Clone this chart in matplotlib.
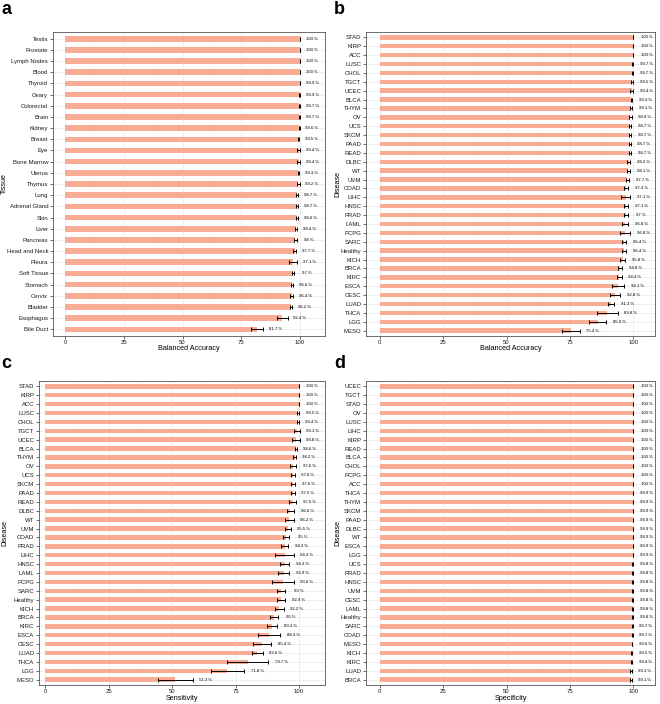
import matplotlib
matplotlib.use("Agg")
import matplotlib.pyplot as plt
from matplotlib.ticker import MultipleLocator

plt.rcParams['font.family'] = ['Liberation Sans', 'DejaVu Sans']

# ---------------- data ----------------
tissues = ["Testis", "Prostate", "Lymph Nodes", "Blood", "Thyroid", "Ovary", "Colorectal",
           "Brain", "Kidney", "Breast", "Eye", "Bone Marrow", "Uterus", "Thymus", "Lung",
           "Adrenal Gland", "Skin", "Liver", "Pancreas", "Head and Neck", "Pleura",
           "Soft Tissue", "Stomach", "Cervix", "Bladder", "Esophagus", "Bile Duct"]
tissue_acc = [100, 100, 100, 100, 99.9, 99.9, 99.7, 99.7, 99.6, 99.5, 99.4, 99.4, 99.3, 99.2,
              98.7, 98.7, 98.6, 98.4, 98, 97.7, 97.1, 97, 96.6, 96.4, 96.2, 92.4, 81.7]
tissue_err = [0, 0, 0, 0, 0.1, 0.2, 0.2, 0.2, 0.2, 0.2, 0.6, 0.6, 0.3, 0.6,
              0.5, 0.5, 0.5, 0.5, 0.6, 0.5, 1.8, 0.6, 0.6, 0.6, 0.5, 2.3, 2.7]

dis_b = ["STAD", "KIRP", "ACC", "LUSC", "CHOL", "TGCT", "UCEC", "BLCA", "THYM", "OV", "UCS",
         "SKCM", "PAAD", "READ", "DLBC", "WT", "UVM", "COAD", "LIHC", "HNSC", "PRAD", "LAML",
         "PCPG", "SARC", "Healthy", "KICH", "BRCA", "KIRC", "ESCA", "CESC", "LUAD", "THCA",
         "LGG", "MESO"]
bal_acc = [100, 100, 100, 99.7, 99.7, 99.5, 99.4, 99.3, 99.1, 98.9, 98.7, 98.7, 98.7, 98.7,
           98.2, 98.1, 97.7, 97.3, 97.1, 97.1, 97, 96.8, 96.8, 96.4, 96.4, 95.8, 94.8, 94.4,
           94.1, 92.8, 91.3, 89.8, 85.9, 75.4]
bal_err = [0, 0, 0, 0.2, 0.2, 0.5, 0.5, 0.3, 0.4, 0.5, 0.4, 0.4, 0.3, 0.5,
           0.6, 0.6, 0.7, 0.8, 1.8, 0.9, 0.8, 1.2, 2.1, 0.8, 0.8, 0.9, 0.9, 1.0,
           2.3, 2.0, 1.3, 4.1, 3.5, 3.4]

dis_c = ["STAD", "KIRP", "ACC", "LUSC", "CHOL", "TGCT", "UCEC", "BLCA", "THYM", "OV", "UCS",
         "SKCM", "PAAD", "READ", "DLBC", "WT", "UVM", "COAD", "PRAD", "LIHC", "HNSC", "LAML",
         "PCPG", "SARC", "Healthy", "KICH", "BRCA", "KIRC", "ESCA", "CESC", "LUAD", "THCA",
         "LGG", "MESO"]
sens = [100, 100, 100, 99.5, 99.4, 99.1, 98.8, 98.6, 98.2, 97.6, 97.6, 97.6, 97.5, 97.5,
        96.6, 96.2, 95.5, 95, 94.3, 94.3, 94.3, 93.9, 93.6, 93, 92.9, 92.2, 90, 89.3,
        88.3, 85.4, 83.6, 79.7, 71.8, 51.3]
sens_err = [0, 0, 0, 0.4, 0.4, 1.1, 1.5, 0.4, 0.5, 1.3, 0.7, 0.8, 0.7, 1.3,
            1.5, 1.6, 1.2, 1.2, 1.3, 3.6, 1.8, 2.1, 4.2, 1.6, 1.6, 1.7, 1.6, 2.1,
            4.3, 3.7, 2.1, 8.2, 6.6, 6.8]

dis_d = ["UCEC", "TGCT", "STAD", "OV", "LUSC", "LIHC", "KIRP", "READ", "BLCA", "CHOL", "PCPG",
         "ACC", "THCA", "THYM", "SKCM", "PAAD", "DLBC", "WT", "ESCA", "LGG", "UCS", "PRAD",
         "HNSC", "UVM", "CESC", "LAML", "Healthy", "SARC", "COAD", "MESO", "KICH", "KIRC",
         "LUAD", "BRCA"]
spec = [100, 100, 100, 100, 100, 100, 100, 100, 100, 100, 100, 100, 99.9, 99.9, 99.9, 99.9,
        99.9, 99.9, 99.9, 99.9, 99.8, 99.8, 99.8, 99.8, 99.8, 99.8, 99.8, 99.7, 99.7, 99.6,
        99.5, 99.4, 99.1, 99.1]
spec_err = [0, 0, 0, 0, 0, 0, 0, 0, 0, 0, 0, 0, 0.1, 0.1, 0.1, 0.1,
            0.1, 0.1, 0.1, 0.1, 0.1, 0.1, 0.1, 0.1, 0.1, 0.1, 0.1, 0.1, 0.1, 0.1,
            0.2, 0.2, 0.3, 0.3]

# ---------------- style ----------------
BAR = "#F8AC94"
GRID = "#EBEBEB"
W, H = 660, 704

fig = plt.figure(figsize=(6.6, 7.04), dpi=100)


def panel(px_left, px_right, px_top, px_bottom, cats, vals, errs, ylabel, xlabel, xlim, letter,
          letter_xy, ylab_x, xlab_y):
    ax = fig.add_axes([px_left / W, 1 - px_bottom / H, (px_right - px_left) / W,
                       (px_bottom - px_top) / H])
    n = len(cats)
    ys = [n - 1 - i for i in range(n)]
    ax.set_axisbelow(True)
    ax.barh(ys, vals, height=0.5, color=BAR, zorder=2)
    ax.errorbar(vals, ys, xerr=errs, fmt="none", ecolor="black", elinewidth=0.7,
                capsize=1.6, capthick=0.7, zorder=3)
    for y, v, e in zip(ys, vals, errs):
        ax.text(v + e + 5.2, y, f"{v:g} %", ha="center", va="center", fontsize=3.1,
                color="black", zorder=4)
    ax.set_yticks(ys)
    ax.set_yticklabels(cats)
    ax.set_ylim(-0.6, n - 0.4)
    ax.set_xlim(*xlim)
    ax.xaxis.set_major_locator(MultipleLocator(25))
    ax.xaxis.set_minor_locator(MultipleLocator(12.5))
    ax.grid(True, which="major", color=GRID, linewidth=0.6)
    ax.grid(True, which="minor", axis="x", color="#F3F3F3", linewidth=0.35)
    ax.tick_params(axis="both", which="major", labelsize=4.3, length=2, width=0.5,
                   color="#333333", labelcolor="#1a1a1a", pad=1.5)
    ax.tick_params(axis="x", which="major", pad=1.2)
    ax.tick_params(axis="x", which="minor", length=0)
    for s in ax.spines.values():
        s.set_color("#555555")
        s.set_linewidth(0.6)
    fig.text((px_left + px_right) / 2 / W, 1 - xlab_y / H, xlabel, fontsize=5.2,
             ha="center", va="center")
    fig.text(ylab_x / W, 1 - ((px_top + px_bottom) / 2) / H, ylabel, rotation=90,
             fontsize=5.2, ha="left", va="center")
    fig.text(letter_xy[0] / W, 1 - letter_xy[1] / H, letter, fontsize=13, fontweight="bold",
             ha="left", va="center")
    return ax


panel(53, 325, 32, 336, tissues, tissue_acc, tissue_err, "Tissue", "Balanced Accuracy",
      (-5.1, 110.6), "a", (1, 9), 1, 349)
panel(366, 655, 32, 336, dis_b, bal_acc, bal_err, "Disease", "Balanced Accuracy",
      (-5.5, 108.6), "b", (334, 9), 334, 349)
panel(39, 325, 381, 685, dis_c, sens, sens_err, "Disease", "Sensitivity",
      (-2.4, 110.2), "c", (1, 364), 1, 698)
panel(366, 655, 381, 685, dis_d, spec, spec_err, "Disease", "Specificity",
      (-5.5, 108.6), "d", (334, 364), 334, 698)

fig.savefig("out.png", dpi=100)
